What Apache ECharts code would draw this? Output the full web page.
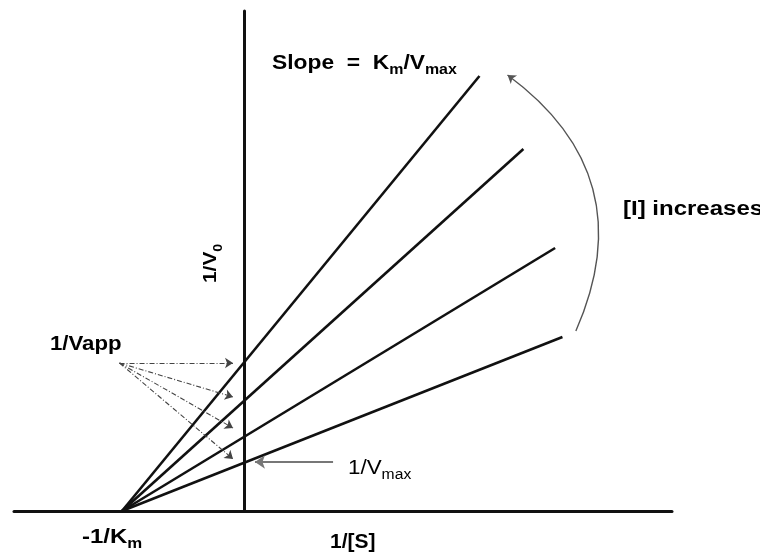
<!DOCTYPE html>
<html>
<head>
<meta charset="utf-8">
<script src="https://cdn.jsdelivr.net/npm/echarts@6/dist/echarts.min.js"></script>
<style>
html,body{margin:0;padding:0;background:#fff;}
#c{width:760px;height:557px;}
</style>
</head>
<body>
<div id="c"></div>
<script>
// Lineweaver-Burk plot (noncompetitive inhibition)
// x = 1/[S], y = 1/V0 (arbitrary units)
var convergeX = -1.0;                       // -1/Km
var lineEndX = [1.93, 2.29, 2.55, 2.61];    // right ends of the four lines
var lineEndY = [4.35, 3.62, 2.63, 1.74];
var vappOrigin = [-1.02, 1.48];             // where the 1/Vapp arrows start
var vappTargetX = -0.09;
var vappTargetY = [1.48, 1.14, 0.83, 0.52];
var vmaxArrowFrom = [0.73, 0.49];
var vmaxArrowTo = [0.09, 0.49];
var curveFrom = [2.72, 1.80];               // "[I] increases" arrow
var curveTo = [2.16, 4.36];
var xRange = [-1.885, 3.508];
var yRange = [0, 5];

var chart = echarts.init(document.getElementById('c'), null, {renderer: 'canvas'});

var series = [];
for (var i = 0; i < lineEndX.length; i++) {
  series.push({
    type: 'line',
    data: [[convergeX, 0], [lineEndX[i], lineEndY[i]]],
    symbol: 'none',
    lineStyle: {color: '#111', width: 2.6},
    silent: true,
    z: 3
  });
}
var vappData = vappTargetY.map(function (y) {
  return {coords: [vappOrigin, [vappTargetX, y]]};
});
series.push({
  type: 'lines',
  coordinateSystem: 'cartesian2d',
  data: vappData,
  symbol: ['none', 'arrow'],
  symbolSize: 8,
  lineStyle: {color: '#444', width: 1.1, type: [5, 2, 1, 2], opacity: 1},
  silent: true,
  z: 4
});
series.push({
  type: 'lines',
  coordinateSystem: 'cartesian2d',
  data: [{coords: [vmaxArrowFrom, vmaxArrowTo]}],
  symbol: ['none', 'arrow'],
  symbolSize: 10,
  lineStyle: {color: '#777', width: 2, opacity: 1},
  silent: true,
  z: 4
});
series.push({
  type: 'lines',
  coordinateSystem: 'cartesian2d',
  data: [{coords: [curveFrom, curveTo]}],
  symbol: ['none', 'arrow'],
  symbolSize: 8,
  lineStyle: {color: '#555', width: 1.4, curveness: -0.4, opacity: 1},
  silent: true,
  z: 4
});

var FAM = '"Liberation Sans", Arial, sans-serif';
function rich(weight, size, subSize) {
  return {
    b: {fontFamily: FAM, fontWeight: weight, fontSize: size, color: '#222', lineHeight: 24},
    s: {fontFamily: FAM, fontWeight: weight, fontSize: subSize, color: '#222', lineHeight: 24, padding: [14, 0, 0, 0]}
  };
}
function label(x, y, text, weight, size, subSize, sx, rot) {
  return {
    type: 'text', x: x, y: y, scaleX: sx, rotation: rot || 0, silent: true,
    style: {text: text, rich: rich(weight, size, subSize), verticalAlign: 'middle', align: 'left'}
  };
}

chart.setOption({
  animation: false,
  backgroundColor: '#fff',
  grid: {left: 14, right: 88, top: 11, bottom: 46, containLabel: false},
  xAxis: {
    type: 'value', min: xRange[0], max: xRange[1],
    axisLine: {show: true, onZero: true, lineStyle: {color: '#111', width: 3}},
    axisTick: {show: false}, axisLabel: {show: false}, splitLine: {show: false}
  },
  yAxis: {
    type: 'value', min: yRange[0], max: yRange[1],
    axisLine: {show: true, onZero: true, lineStyle: {color: '#111', width: 3}},
    axisTick: {show: false}, axisLabel: {show: false}, splitLine: {show: false}
  },
  series: series,
  graphic: [
    label(272, 63, '{b|Slope  =  K}{s|m}{b|/V}{s|max}', 'bold', 20, 14, 1.14),
    label(623, 209, '{b|[I] increases}', 'bold', 20, 14, 1.2),
    label(50, 344, '{b|1/Vapp}', 'bold', 20, 14, 1.11),
    label(82, 537, '{b|-1/K}{s|m}', 'bold', 20, 14, 1.2),
    label(330, 542, '{b|1/[S]}', 'bold', 20, 14, 1.05),
    label(348, 468, '{b|1/V}{s|max}', 'normal', 20, 14, 1.12),
    label(211, 283, '{b|1/V}{s|0}', 'bold', 19, 13, 1.1, Math.PI / 2)
  ]
});
</script>
</body>
</html>
